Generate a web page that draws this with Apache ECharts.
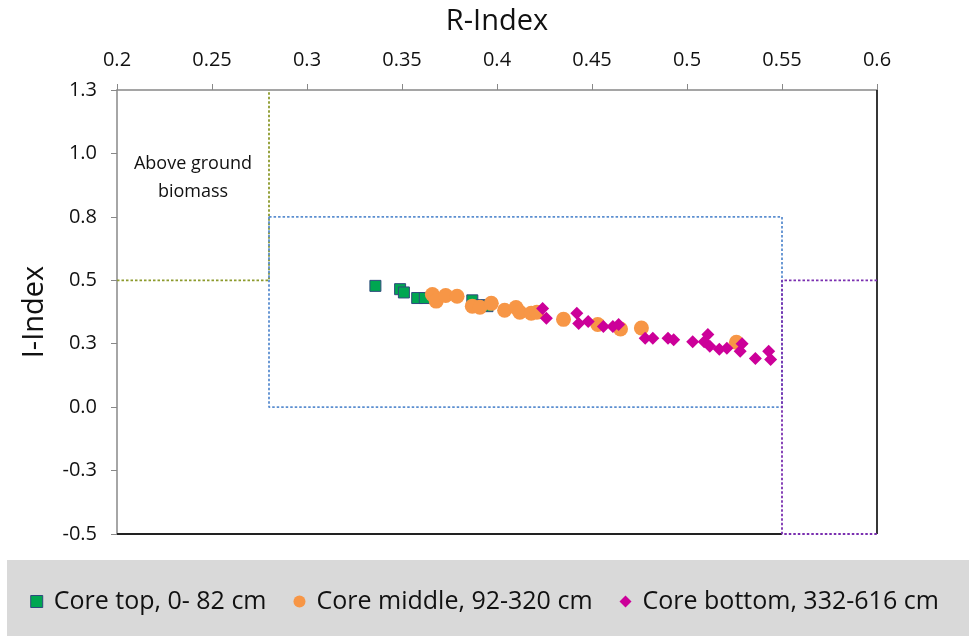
<!DOCTYPE html>
<html lang="en">
<head>
    <meta charset="UTF-8">
    <title>R-Index vs I-Index</title>
    <style>
        html, body { margin: 0; padding: 0; background: #fff; }
        #chart { width: 969px; height: 636px; }
    </style>
</head>
<body>
    <div id="chart"></div>
    <script src="https://cdn.jsdelivr.net/npm/echarts@6/dist/echarts.min.js"></script>
    <script>
        // data: [R-Index, I-Index]
        var coreTop = [
            [0.336, 0.478], [0.349, 0.465], [0.351, 0.452], [0.358, 0.430],
            [0.362, 0.430], [0.387, 0.421], [0.392, 0.402], [0.395, 0.398]
        ];
        var coreMiddle = [
            [0.366, 0.444], [0.368, 0.418], [0.373, 0.440], [0.379, 0.437],
            [0.387, 0.398], [0.391, 0.394], [0.397, 0.409], [0.404, 0.382],
            [0.410, 0.393], [0.412, 0.374], [0.418, 0.370], [0.421, 0.374],
            [0.435, 0.346], [0.453, 0.326], [0.465, 0.308], [0.476, 0.312],
            [0.526, 0.256]
        ];
        var coreBottom = [
            [0.424, 0.389], [0.426, 0.350], [0.442, 0.370], [0.443, 0.330],
            [0.448, 0.338], [0.456, 0.318], [0.461, 0.318], [0.464, 0.326],
            [0.478, 0.272], [0.482, 0.272], [0.490, 0.272], [0.493, 0.266],
            [0.503, 0.258], [0.509, 0.258], [0.511, 0.286], [0.512, 0.240],
            [0.517, 0.228], [0.521, 0.232], [0.528, 0.220], [0.529, 0.250],
            [0.536, 0.192], [0.543, 0.220], [0.544, 0.188]
        ];
        var seriesNames = ['Core top, 0- 82 cm', 'Core middle, 92-320 cm', 'Core bottom, 332-616 cm'];
        var yTickLabels = ['-0.5', '-0.3', '0.0', '0.3', '0.5', '0.8', '1.0', '1.3'];

        // region boundaries
        var biomassLine = [[0.2, 0.5], [0.28, 0.5], [0.28, 1.25]];
        var mainBox = [[0.28, 0.75], [0.28, 0], [0.55, 0], [0.55, 0.75], [0.28, 0.75]];
        var rightLine = [[0.6, 0.5], [0.55, 0.5], [0.55, -0.5], [0.6, -0.5]];
        var frameLine = [[0.2, -0.5], [0.55, -0.5], null, [0.6, -0.5], [0.6, 1.25]];

        var chart = echarts.init(document.getElementById('chart'));

        function dotted(data, color) {
            return {
                type: 'line',
                data: data,
                symbol: 'none',
                silent: true,
                z: 1,
                lineStyle: { color: color, width: 1.8, type: [2.5, 2] },
                connectNulls: false
            };
        }

        var option = {
            backgroundColor: '#ffffff',
            animation: false,
            textStyle: { fontFamily: 'Open Sans' },
            grid: { left: 117, right: 92, top: 90, bottom: 102, outerBoundsMode: 'none', containLabel: false },
            graphic: [
                {
                    type: 'rect', left: 7, top: 560, z: -1,
                    shape: { width: 962, height: 76 },
                    style: { fill: '#d9d9d9' }
                },
                {
                    type: 'text', x: 193, y: 150,
                    style: {
                        text: 'Above ground\nbiomass', align: 'center',
                        fill: '#111', font: '18px "Open Sans"', lineHeight: 28
                    }
                }
            ],
            legend: {
                data: [
                    { name: seriesNames[0], icon: 'rect', itemStyle: { borderColor: '#2e4a7d', borderWidth: 1 } },
                    { name: seriesNames[1], icon: 'circle' },
                    { name: seriesNames[2], icon: 'diamond' }
                ],
                left: 'center',
                top: 584,
                itemWidth: 12,
                itemHeight: 12,
                itemGap: 27,
                textStyle: { fontSize: 25, color: '#111', fontFamily: 'Open Sans', padding: [0, 0, 0, 6] }
            },
            xAxis: {
                type: 'value',
                position: 'top',
                min: 0.2,
                max: 0.6,
                interval: 0.05,
                name: 'R-Index',
                nameLocation: 'middle',
                nameGap: 54,
                nameTextStyle: { fontSize: 29, color: '#111' },
                axisLine: { show: true, onZero: false, lineStyle: { color: '#888', width: 1.5 } },
                axisTick: { show: true, length: 6, lineStyle: { color: '#888' } },
                axisLabel: { fontSize: 20, color: '#111', margin: 20 },
                splitLine: { show: false }
            },
            yAxis: {
                type: 'value',
                min: -0.5,
                max: 1.25,
                interval: 0.25,
                name: 'I-Index',
                nameLocation: 'middle',
                nameGap: 68,
                nameTextStyle: { fontSize: 29, color: '#111' },
                axisLine: { show: true, onZero: false, lineStyle: { color: '#888', width: 1.5 } },
                axisTick: { show: true, length: 6, lineStyle: { color: '#888' } },
                axisLabel: {
                    fontSize: 20, color: '#111', margin: 20,
                    formatter: function (v) {
                        return yTickLabels[Math.round((v + 0.5) / 0.25)];
                    }
                },
                splitLine: { show: false }
            },
            series: [
                dotted(frameLine, '#222'),
                dotted(biomassLine, '#8c9a2c'),
                dotted(mainBox, '#5b8ed0'),
                dotted(rightLine, '#7a2fb0'),
                {
                    name: seriesNames[0],
                    type: 'scatter',
                    symbol: 'rect',
                    symbolSize: 11,
                    z: 3,
                    itemStyle: { color: '#00a651', borderColor: '#2e4a7d', borderWidth: 1, opacity: 1 },
                    data: coreTop
                },
                {
                    name: seriesNames[1],
                    type: 'scatter',
                    symbol: 'circle',
                    symbolSize: 15,
                    z: 4,
                    itemStyle: { color: '#f79646', opacity: 1 },
                    data: coreMiddle
                },
                {
                    name: seriesNames[2],
                    type: 'scatter',
                    symbol: 'diamond',
                    symbolSize: 13,
                    z: 5,
                    itemStyle: { color: '#cc0099', opacity: 1 },
                    data: coreBottom
                }
            ]
        };
        // frame lines are solid
        option.series[0].lineStyle.type = 'solid';
        option.series[0].lineStyle.width = 1.8;
        chart.setOption(option);
    </script>
</body>
</html>
